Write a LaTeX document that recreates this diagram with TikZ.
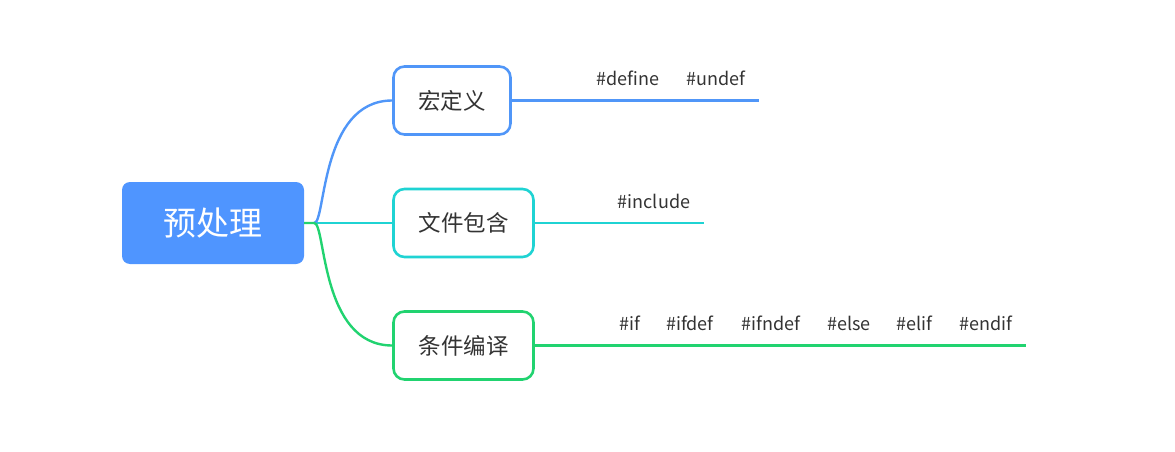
\documentclass[tikz,border=0pt]{standalone}
\usepackage{fontspec}
\setmainfont{Noto Sans CJK SC}
\usetikzlibrary{positioning,calc}

\definecolor{rootblue}{HTML}{4F95FF}
\definecolor{macblue}{HTML}{5096F8}
\definecolor{inccyan}{HTML}{1FD3D3}
\definecolor{condgreen}{HTML}{21D370}
\definecolor{txtgray}{HTML}{333333}

\begin{document}
\begin{tikzpicture}[x=1pt,y=-1pt,
  rootbox/.style={fill=rootblue, rounded corners=8pt, minimum width=182pt, minimum height=82pt,
    text=white, font=\fontsize{33}{33}\selectfont, inner sep=0pt},
  topicbox/.style={draw=#1, line width=2.6pt, fill=white, rounded corners=11pt, minimum height=68pt,
    text=txtgray, font=\fontsize{22.5}{22.5}\selectfont, inner sep=0pt},
  branch/.style={draw=#1, line width=2.4pt},
  tag/.style={text=txtgray, font=\fontsize{18}{18}\selectfont, inner sep=0pt}]
  \useasboundingbox (0,0) rectangle (1175,452);

  % main node and its three topics
  \node [rootbox] (root) at (213,223) {预处理};
  \node [topicbox=macblue, minimum width=117pt] (mac) at (452,100.5) {宏定义};
  \node [topicbox=inccyan, minimum width=140pt] (inc) at (463.5,223) {文件包含};
  \node [topicbox=condgreen, minimum width=140pt] (cond) at (463.5,345.5) {条件编译};

  % connectors from the main node
  \coordinate (fork) at ($(root.east)+(10,0)$);
  \draw [branch=inccyan] (root.east) -- (inc.west);
  \draw [branch=macblue] (fork) .. controls (326,223) and (320,100.5) .. (mac.west);
  \draw [branch=condgreen] (root.east) -- (fork) .. controls (326,223) and (320,345.5) .. (cond.west);

  % keyword lines
  \coordinate (macend) at (759,100.5);
  \coordinate (incend) at (704,223);
  \coordinate (condend) at (1026,345.5);
  \draw [branch=macblue] (mac.east) -- (macend);
  \draw [branch=inccyan] (inc.east) -- (incend);
  \draw [branch=condgreen] (cond.east) -- (condend);

  \node [tag] (define) at (628,78) {\#define};
  \node [tag] (undef) at (716,78) {\#undef};
  \node [tag] (include) at (654,201) {\#include};
  \node [tag] (if) at (630,323) {\#if};
  \node [tag] (ifdef) at (690,323) {\#ifdef};
  \node [tag] (ifndef) at (771,323) {\#ifndef};
  \node [tag] (else) at (849,323) {\#else};
  \node [tag] (elif) at (914,323) {\#elif};
  \node [tag] (endif) at (986,323) {\#endif};
\end{tikzpicture}
\end{document}
